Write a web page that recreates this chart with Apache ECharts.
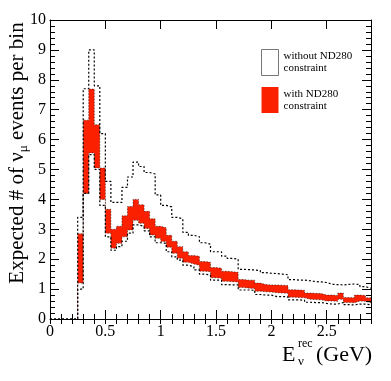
<!DOCTYPE html>
<html>
<head>
<meta charset="utf-8">
<script src="https://cdn.jsdelivr.net/npm/echarts@6/dist/echarts.min.js"></script>
<style>
  html, body { margin: 0; padding: 0; background: #fff; }
  #chart { width: 391px; height: 381px; }
</style>
</head>
<body>
<div id="chart"></div>
<script>
// bin edges of the reconstructed energy histogram (GeV)
const binEdges = [0.25, 0.30, 0.35, 0.40, 0.45, 0.50, 0.55, 0.60, 0.65, 0.70,
  0.75, 0.80, 0.85, 0.90, 0.95, 1.00, 1.05, 1.10, 1.15, 1.20,
  1.25, 1.30, 1.35, 1.40, 1.45, 1.50, 1.55, 1.60, 1.65, 1.70,
  1.75, 1.80, 1.85, 1.90, 1.95, 2.00, 2.05, 2.10, 2.15, 2.20,
  2.25, 2.30, 2.35, 2.40, 2.45, 2.50, 2.55, 2.60, 2.65, 2.70,
  2.75, 2.80, 2.85, 2.90];

// without ND280 constraint: upper / lower edge of the band
const upperNoND = [3.4, 7.7, 9.0, 7.8, 6.2, 4.6, 3.9, 3.9, 4.4, 4.75,
  5.25, 5.1, 4.9, 4.85, 4.15, 3.8, 3.75, 3.4, 3.35, 2.9,
  2.8, 2.75, 2.55, 2.5, 2.25, 2.25, 2.1, 2.03, 2.0, 1.66,
  1.65, 1.64, 1.62, 1.55, 1.53, 1.52, 1.5, 1.48, 1.32, 1.3,
  1.3, 1.28, 1.25, 1.24, 1.22, 1.16, 1.15, 1.14, 1.16, 1.17,
  1.15, 1.08, 1.03];
const lowerNoND = [1.0, 4.2, 5.5, 5.0, 3.8, 2.75, 2.3, 2.42, 2.6, 2.87,
  3.15, 3.1, 2.95, 2.75, 2.55, 2.53, 2.25, 2.08, 1.97, 1.8,
  1.75, 1.64, 1.5, 1.47, 1.3, 1.3, 1.15, 1.14, 1.14, 0.97,
  0.97, 0.96, 0.82, 0.8, 0.8, 0.75, 0.75, 0.74, 0.64, 0.64,
  0.63, 0.56, 0.55, 0.55, 0.52, 0.5, 0.5, 0.55, 0.48, 0.47,
  0.5, 0.5, 0.47];

// with ND280 constraint: upper / lower edge of the red band
const upperND = [2.85, 6.65, 7.69, 6.5, 5.05, 3.67, 3.0, 3.1, 3.45, 3.76,
  4.0, 3.82, 3.6, 3.35, 3.1, 3.05, 2.8, 2.6, 2.42, 2.25,
  2.12, 2.1, 1.92, 1.9, 1.72, 1.7, 1.6, 1.58, 1.56, 1.32,
  1.3, 1.3, 1.2, 1.15, 1.14, 1.14, 1.13, 1.12, 0.98, 0.97,
  0.96, 0.87, 0.86, 0.85, 0.8, 0.8, 0.79, 0.87, 0.72, 0.71,
  0.8, 0.79, 0.71];
const lowerND = [1.2, 4.2, 5.55, 5.05, 4.0, 2.87, 2.37, 2.53, 2.75, 2.98,
  3.3, 3.2, 3.03, 2.81, 2.7, 2.59, 2.4, 2.2, 2.03, 1.9,
  1.84, 1.8, 1.6, 1.58, 1.38, 1.36, 1.26, 1.25, 1.24, 1.05,
  1.03, 1.02, 0.93, 0.91, 0.9, 0.88, 0.87, 0.86, 0.73, 0.72,
  0.71, 0.66, 0.65, 0.64, 0.6, 0.6, 0.59, 0.66, 0.55, 0.54,
  0.6, 0.59, 0.54];

const xTicks = [0, 0.5, 1, 1.5, 2, 2.5];

const serif = '"Liberation Serif", "DejaVu Serif", serif';
const nameNo = 'without ND280\nconstraint';
const nameWith = 'with ND280\nconstraint';
const red = '#fa2000';

// step points: left edge of every bin, plus the closing right edge
function stepPoints(vals, startAtZero) {
  const pts = startAtZero ? [[0, 0]] : [];
  vals.forEach((v, i) => pts.push([binEdges[i], v]));
  pts.push([binEdges[vals.length], vals[vals.length - 1]]);
  return pts;
}

const chart = echarts.init(document.getElementById('chart'), null, { renderer: 'canvas' });

const tickLine = { color: '#000', width: 1 };
const dotted = { color: '#000', width: 1.2, type: [2, 2] };
const redEdge = { color: '#000', width: 1, type: [1.5, 1.5], opacity: 0.5 };

const option = {
  backgroundColor: '#fff',
  animation: false,
  grid: { left: 50, right: 20, top: 20, bottom: 62 },
  xAxis: [
    {
      type: 'value', position: 'bottom', min: 0, max: 2.9, interval: 0.5, z: 10,
      axisLine: { show: true, onZero: false, lineStyle: tickLine },
      axisTick: { show: true, inside: true, length: 9, lineStyle: tickLine },
      splitLine: { show: false },
      axisLabel: {
        show: true, margin: 5, showMaxLabel: false, color: '#000',
        fontFamily: serif, fontSize: 16,
        formatter: (v) => (xTicks.indexOf(v) >= 0 ? String(v) : '')
      }
    },
    {
      type: 'value', position: 'bottom', min: 0, max: 2.9, interval: 0.1, z: 10,
      axisLine: { show: false },
      axisTick: { show: true, inside: true, length: 5, lineStyle: tickLine },
      splitLine: { show: false }, axisLabel: { show: false }
    },
    {
      type: 'value', position: 'top', min: 0, max: 2.9, interval: 0.5, z: 10,
      axisLine: { show: true, onZero: false, lineStyle: tickLine },
      axisTick: { show: true, inside: true, length: 9, lineStyle: tickLine },
      splitLine: { show: false }, axisLabel: { show: false }
    },
    {
      type: 'value', position: 'top', min: 0, max: 2.9, interval: 0.1, z: 10,
      axisLine: { show: false },
      axisTick: { show: true, inside: true, length: 5, lineStyle: tickLine },
      splitLine: { show: false }, axisLabel: { show: false }
    }
  ],
  yAxis: [
    {
      type: 'value', position: 'left', min: 0, max: 10, interval: 1, z: 10,
      axisLine: { show: true, onZero: false, lineStyle: tickLine },
      axisTick: { show: true, inside: true, length: 9, lineStyle: tickLine },
      minorTick: { show: true, splitNumber: 5, length: 5, lineStyle: tickLine },
      splitLine: { show: false },
      axisLabel: { show: true, margin: 4, color: '#000', fontFamily: serif, fontSize: 16 }
    },
    {
      type: 'value', position: 'right', min: 0, max: 10, interval: 1, z: 10,
      axisLine: { show: true, onZero: false, lineStyle: tickLine },
      axisTick: { show: true, inside: true, length: 9, lineStyle: tickLine },
      minorTick: { show: true, splitNumber: 5, length: 5, lineStyle: tickLine },
      splitLine: { show: false }, axisLabel: { show: false }
    }
  ],
  legend: {
    orient: 'vertical', left: 256, top: 44,
    itemWidth: 17, itemHeight: 26, itemGap: 11,
    selectedMode: false,
    textStyle: { fontFamily: serif, fontSize: 11, color: '#000', lineHeight: 12 },
    data: [
      { name: nameNo, icon: 'rect', itemStyle: { color: '#fff', borderColor: '#777', borderWidth: 1 } },
      { name: nameWith, icon: 'rect', itemStyle: { color: red, borderWidth: 0 } }
    ]
  },
  series: [
    {
      // red band: filled up to the upper edge ...
      name: nameWith, type: 'line', step: 'end', symbol: 'none',
      data: stepPoints(upperND, false),
      color: red,
      lineStyle: redEdge,
      areaStyle: { color: red, opacity: 1 }, z: 2
    },
    {
      // ... then cleared below the lower edge
      name: 'ndLow', type: 'line', step: 'end', symbol: 'none',
      data: stepPoints(lowerND, false),
      color: '#fff',
      lineStyle: redEdge,
      areaStyle: { color: '#fff', opacity: 1 }, z: 3
    },
    {
      name: nameNo, type: 'line', step: 'end', symbol: 'none',
      data: stepPoints(upperNoND, true),
      lineStyle: dotted, color: '#000', z: 4
    },
    {
      name: nameNo, type: 'line', step: 'end', symbol: 'none',
      data: stepPoints(lowerNoND, true),
      lineStyle: dotted, color: '#000', z: 4
    }
  ],
  graphic: [
    {
      type: 'text', x: 17, y: 153, rotation: Math.PI / 2,
      style: {
        text: '{a|Expected # of ν}{s|μ}{a| events per bin}',
        align: 'center', verticalAlign: 'middle',
        rich: {
          a: { fontFamily: serif, fontSize: 21, lineHeight: 26, fill: '#000' },
          s: { fontFamily: serif, fontSize: 13, lineHeight: 13, verticalAlign: 'bottom', fill: '#000' }
        }
      }
    },
    { type: 'text', x: 282, y: 355, style: { text: 'E', font: '22px ' + serif, fill: '#000', align: 'left', verticalAlign: 'middle' } },
    { type: 'text', x: 298, y: 344, style: { text: 'rec', font: '12px ' + serif, fill: '#000', align: 'left', verticalAlign: 'middle' } },
    { type: 'text', x: 298, y: 362, style: { text: 'ν', font: '13px ' + serif, fill: '#000', align: 'left', verticalAlign: 'middle' } },
    { type: 'text', x: 316, y: 355, style: { text: '(GeV)', font: '22px ' + serif, fill: '#000', align: 'left', verticalAlign: 'middle' } }
  ]
};

chart.setOption(option);
</script>
</body>
</html>
